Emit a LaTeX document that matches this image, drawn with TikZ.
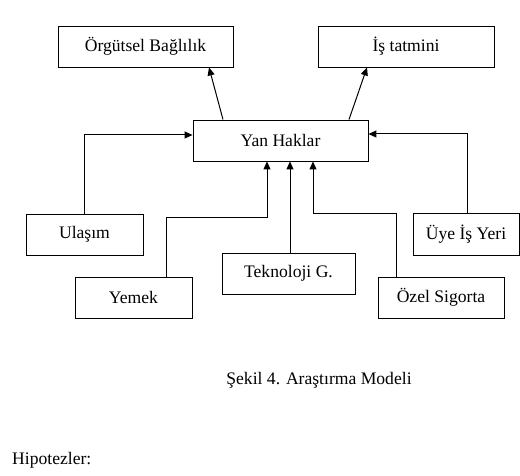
\documentclass[tikz,border=0pt]{standalone}
\usepackage{fontspec}
\setmainfont{Liberation Serif}
\usetikzlibrary{arrows.meta}

\begin{document}
\begin{tikzpicture}[x=1pt,y=1pt,
  kutu/.style={draw,line width=0.9pt,minimum height=41pt,inner sep=0pt,
    font=\fontsize{17.6}{21}\selectfont},
  ok/.style={line width=1pt,-{Triangle[length=8pt,width=7pt]}},
  cizgi/.style={line width=1pt}]
  \useasboundingbox (0,0) rectangle (520,475);
  % ust kutular
  \node[kutu,minimum width=175pt] (orgut) at (145.5,428.5) {Örgütsel Bağlılık};
  \node[kutu,minimum width=176pt] (istat) at (406,428.5) {İş tatmini};
  \node[kutu,minimum width=175pt] (yan) at (280.5,334.5) {Yan Haklar};
  % alt kutular
  \node[kutu,minimum width=117pt] (ulasim) at (84.5,240.5) {Ulaşım};
  \node[kutu,minimum width=106pt,minimum height=42pt] (uye) at (466,241) {Üye İş Yeri};
  \node[kutu,minimum width=117pt] (yemek) at (133.5,177.5) {Yemek};
  \node[kutu,minimum width=133pt] (tekno) at (288.5,201.5) {Teknoloji G.};
  \node[kutu,minimum width=126pt] (sigorta) at (441,177.5) {Özel Sigorta};
  % yazilar
  \node[font=\fontsize{17.6}{21}\selectfont] (sekil) at (319,95) {Şekil 4. Araştırma Modeli};
  \node[font=\fontsize{17.6}{21}\selectfont,anchor=west,inner sep=0pt] (hipo) at (12,15) {Hipotezler:};

  \draw[ok] ([xshift=-57.5pt]yan.north) -- ([xshift=63.5pt]orgut.south);
  \draw[ok] ([xshift=68.5pt]yan.north) -- ([xshift=-39pt]istat.south);
  \draw[ok] (ulasim.north) |- ([yshift=5.5pt]yan.west);
  \draw[ok] ([xshift=1pt]uye.north) |- ([yshift=6.5pt]yan.east);
  \coordinate (yemekdon) at (166,258);
  \coordinate (sigortadon) at (396,262);
  \draw[cizgi] ([xshift=32.5pt]yemek.north) -- (yemekdon);
  \draw[ok] (yemekdon) -| ([xshift=-13.5pt]yan.south);
  \draw[ok] ([xshift=1.5pt]tekno.north) -- ([xshift=9.5pt]yan.south);
  \draw[cizgi] ([xshift=-45pt]sigorta.north) -- (sigortadon);
  \draw[ok] (sigortadon) -| ([xshift=32.5pt]yan.south);
\end{tikzpicture}
\end{document}
